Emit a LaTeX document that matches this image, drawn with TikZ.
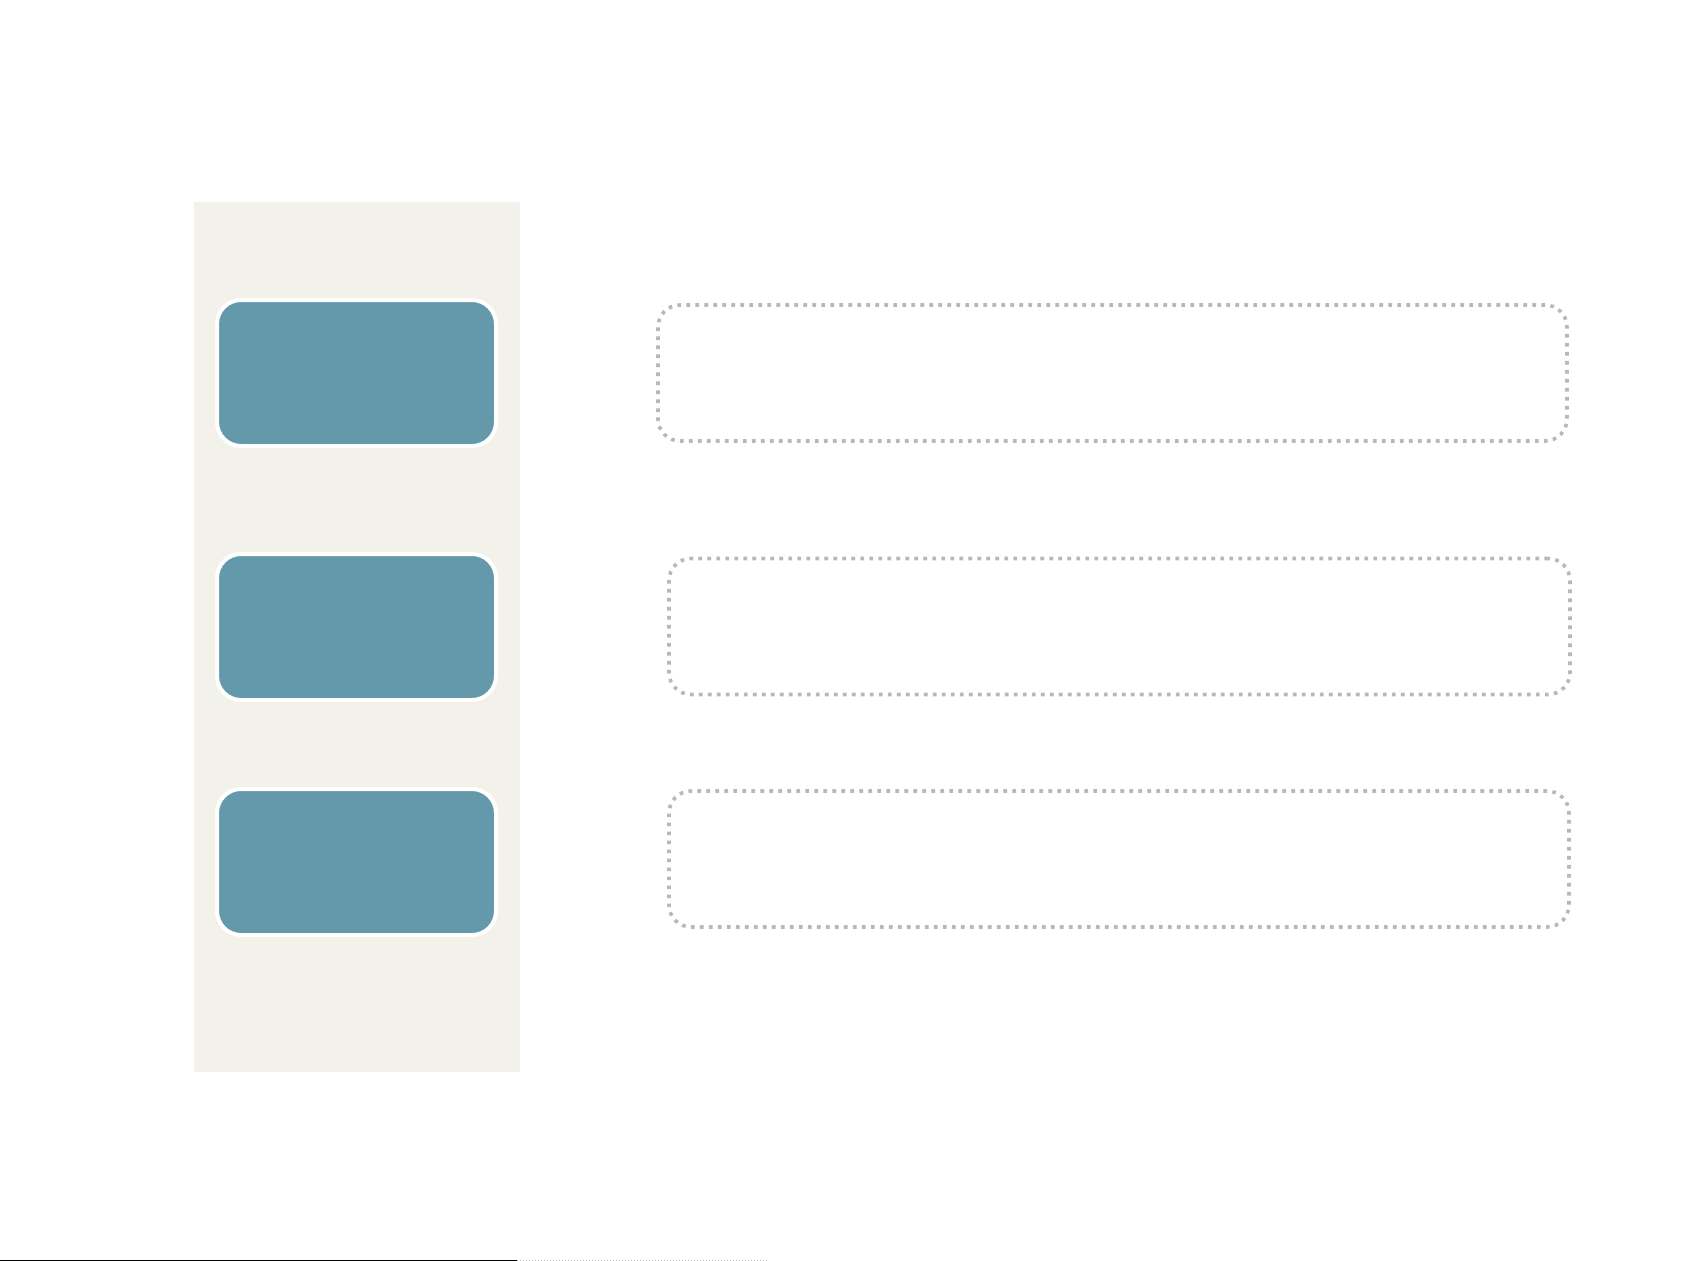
\documentclass[tikz,border=0pt]{standalone}
\usetikzlibrary{backgrounds}
\definecolor{panelbg}{HTML}{F2F1EA}
\definecolor{tealfill}{HTML}{6499AC}
\definecolor{dotgray}{HTML}{B8B8B8}
\tikzset{
  tealbox/.style={fill=tealfill, draw=white, line width=4pt, rounded corners=24pt, inner sep=0pt, minimum width=279pt, minimum height=146pt},
  dotbox/.style={draw=dotgray, line width=3.6pt, dash pattern=on 3.6pt off 5.4pt, rounded corners=22pt, inner sep=0pt, minimum height=136pt}
}
\begin{document}
\begin{tikzpicture}[x=1pt,y=-1pt]
\useasboundingbox (0,0) rectangle (1682,1261);
\fill[white] (0,0) rectangle (1682,1261);
\node[fill=panelbg, inner sep=0pt, minimum width=326pt, minimum height=870pt] (panel) at (357,637) {};
\node[tealbox] (t1) at (356.5,373) {};
\node[tealbox] (t2) at (356.5,627) {};
\node[tealbox] (t3) at (356.5,862) {};
\node[dotbox, minimum width=909pt] (d1) at (1112.5,373) {};
\node[dotbox, minimum width=901pt] (d2) at (1119.5,626.5) {};
\node[dotbox, minimum width=900pt] (d3) at (1119,859) {};
\coordinate (b0) at (0,1260.5);
\coordinate (b1) at (517,1260.5);
\coordinate (b2) at (767,1260.5);
\draw[black, line width=1pt] (b0) -- (b1);
\draw[gray!60, line width=1pt, dash pattern=on 1pt off 2pt] (b1) -- (b2);
\end{tikzpicture}
\end{document}
